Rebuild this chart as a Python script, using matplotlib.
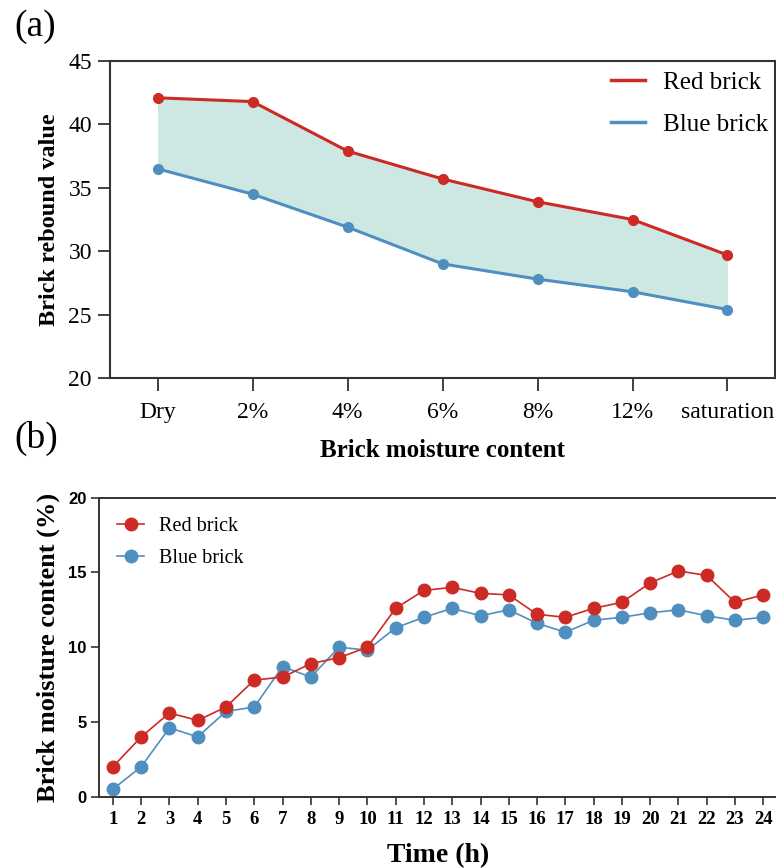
import matplotlib
matplotlib.use("Agg")
import matplotlib.pyplot as plt
from matplotlib.lines import Line2D
import numpy as np

# Panel (a): rebound value vs moisture level
moisture_levels = ["Dry", "2%", "4%", "6%", "8%", "12%", "saturation"]
red_rebound = [42.1, 41.8, 37.9, 35.7, 33.9, 32.5, 29.7]
blue_rebound = [36.5, 34.5, 31.9, 29.0, 27.8, 26.8, 25.4]

# Panel (b): moisture content over time
hours = list(range(1, 25))
red_moisture = [2.0, 4.0, 5.6, 5.1, 6.0, 7.8, 8.0, 8.9, 9.3, 10.0, 12.6, 13.8,
                14.0, 13.6, 13.5, 12.2, 12.0, 12.6, 13.0, 14.3, 15.1, 14.8, 13.0, 13.5]
blue_moisture = [0.5, 2.0, 4.6, 4.0, 5.7, 6.0, 8.7, 8.0, 10.0, 9.8, 11.3, 12.0,
                 12.6, 12.1, 12.5, 11.6, 11.0, 11.8, 12.0, 12.3, 12.5, 12.1, 11.8, 12.0]

RED = "#cc2a24"
BLUE = "#4f8fbf"
FILL = "#cde7e2"
SPINE = "#333333"
SERIF = "Liberation Serif"
SANS = "Liberation Sans"

fig = plt.figure(figsize=(7.76, 8.68), dpi=100)

# ---------- (a) ----------
ax1 = fig.add_axes([0.1418, 0.5645, 0.8569, 0.3652])
x = np.arange(len(moisture_levels))
ax1.fill_between(x, blue_rebound, red_rebound, color=FILL, lw=0, zorder=1)
ax1.plot(x, red_rebound, color=RED, lw=2.2, marker="o", ms=7, label="Red brick", zorder=3)
ax1.plot(x, blue_rebound, color=BLUE, lw=2.2, marker="o", ms=7, label="Blue brick", zorder=3)
ax1.set_xlim(-0.5, 6.5)
ax1.set_ylim(20, 45)
ax1.set_yticks([20, 25, 30, 35, 40, 45])
ax1.set_xticks(x)
ax1.set_xticklabels(moisture_levels)
for s in ax1.spines.values():
    s.set_color(SPINE)
    s.set_linewidth(1.5)
ax1.tick_params(axis="both", direction="out", length=9, width=1.3, color=SPINE,
                labelsize=17, pad=4)
ax1.tick_params(axis="x", pad=8)
for lab in ax1.get_xticklabels() + ax1.get_yticklabels():
    lab.set_fontfamily(SERIF)
ax1.set_ylabel("Brick rebound value", fontfamily=SERIF, fontweight="bold",
               fontsize=17.5, labelpad=6)
ax1.set_xlabel("Brick moisture content", fontfamily=SERIF, fontweight="bold",
               fontsize=18, labelpad=12)
handles = [Line2D([], [], color=RED, lw=2.5), Line2D([], [], color=BLUE, lw=2.5)]
ax1.legend(handles, ["Red brick", "Blue brick"], loc="upper right", frameon=False,
           prop={"family": SERIF, "size": 18}, handlelength=1.35, handletextpad=0.7,
           labelspacing=0.78, borderaxespad=0, bbox_to_anchor=(1.004, 0.998))
fig.text(0.019, 0.969, "(a)", fontfamily=SERIF, fontsize=27, va="center", ha="left")

# ---------- (b) ----------
ax2 = fig.add_axes([0.128, 0.0822, 0.872, 0.3444])
ax2.plot(hours, red_moisture, color=RED, lw=1.2, marker="o", ms=9, label="Red brick", zorder=3)
ax2.plot(hours, blue_moisture, color=BLUE, lw=1.2, marker="o", ms=9, label="Blue brick", zorder=2)
ax2.set_xlim(0.52, 24.45)
ax2.set_ylim(0, 20)
ax2.set_yticks([0, 5, 10, 15, 20])
ax2.set_xticks(hours)
ax2.spines["right"].set_visible(False)
for s in ["left", "bottom", "top"]:
    ax2.spines[s].set_color(SPINE)
    ax2.spines[s].set_linewidth(1.4)
ax2.tick_params(axis="both", direction="out", length=6, width=1.2, color=SPINE)
ax2.tick_params(axis="x", labelsize=13.5, pad=4)
ax2.tick_params(axis="y", labelsize=12, pad=3)
for lab in ax2.get_xticklabels():
    lab.set_fontfamily(SERIF)
    lab.set_fontweight("bold")
for lab in ax2.get_yticklabels():
    lab.set_fontfamily(SANS)
    lab.set_fontweight("bold")
ax2.set_ylabel("Brick moisture content (%)", fontfamily=SERIF, fontweight="bold",
               fontsize=19, labelpad=6)
ax2.set_xlabel("Time (h)", fontfamily=SERIF, fontweight="bold", fontsize=20, labelpad=11)
ax2.legend(loc="upper left", frameon=False, prop={"family": SERIF, "size": 14.5},
           handlelength=1.3, handletextpad=0.75, labelspacing=0.6,
           bbox_to_anchor=(0.0, 0.995))
fig.text(0.019, 0.4945, "(b)", fontfamily=SERIF, fontsize=27, va="center", ha="left")

fig.savefig("out.png", dpi=100)
